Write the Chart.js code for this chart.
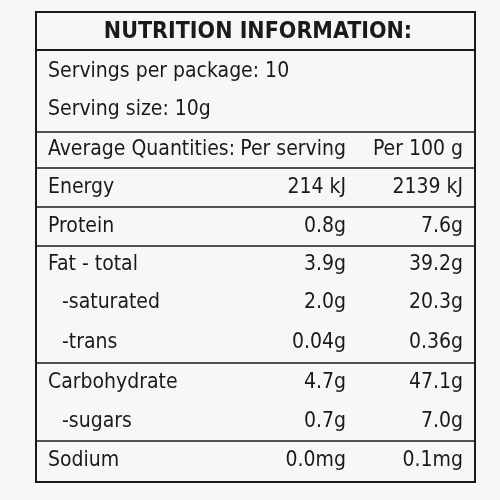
<!DOCTYPE html>
<html>
<head>
<meta charset="utf-8">
<script src="https://cdn.jsdelivr.net/npm/chart.js@4"></script>
<style>
  html, body { margin: 0; padding: 0; background: #f7f7f7; }
  #wrap { width: 500px; height: 500px; }
</style>
</head>
<body>
<div id="wrap"><canvas id="c"></canvas></div>
<script>
const title = 'NUTRITION INFORMATION:';
const infoLines = ['Servings per package: 10', 'Serving size: 10g'];
const headers = ['Average Quantities:', 'Per serving', 'Per 100 g'];
const labels = ['Energy', 'Protein', 'Fat - total', '-saturated', '-trans', 'Carbohydrate', '-sugars', 'Sodium'];
const perServing = ['214 kJ', '0.8g', '3.9g', '2.0g', '0.04g', '4.7g', '0.7g', '0.0mg'];
const per100g = ['2139 kJ', '7.6g', '39.2g', '20.3g', '0.36g', '47.1g', '7.0g', '0.1mg'];
const indented = [false, false, false, true, true, false, true, false];
// row boundaries (y, in label units 0..500 from top) and where group dividers fall
const rowTops = [168, 207, 246, 283, 322, 363, 403, 441];
const rowBottom = 480;
const dividers = [50, 132, 168, 207, 246, 363, 441];

const FONT = '"Liberation Sans Narrow", "DejaVu Sans Condensed", "Roboto Condensed", sans-serif';

const tablePlugin = {
  id: 'table',
  afterDraw(chart) {
    const { ctx } = chart;
    const x = chart.scales.x, y = chart.scales.y;
    const px = v => x.getPixelForValue(v);
    const py = v => y.getPixelForValue(v);
    ctx.save();
    ctx.strokeStyle = '#1a1a1a';
    ctx.fillStyle = '#1a1a1a';
    // outer box
    ctx.lineWidth = 2;
    ctx.strokeRect(px(36), py(12), px(475) - px(36), py(482) - py(12));
    dividers.forEach(d => {
      ctx.lineWidth = d === 50 ? 2 : 1.5;
      ctx.beginPath(); ctx.moveTo(px(36), py(d)); ctx.lineTo(px(475), py(d)); ctx.stroke();
    });
    ctx.textBaseline = 'middle';
    ctx.font = 'bold 23px ' + FONT;
    ctx.textAlign = 'center';
    ctx.fillText(title, px(258), py(32));
    ctx.font = '21px ' + FONT;
    ctx.textAlign = 'left';
    ctx.fillText(infoLines[0], px(48), py(72));
    ctx.fillText(infoLines[1], px(48), py(110));
    ctx.fillText(headers[0], px(48), py(150));
    ctx.textAlign = 'right';
    ctx.fillText(headers[1], px(346), py(150));
    ctx.fillText(headers[2], px(463), py(150));
    labels.forEach((l, i) => {
      const top = rowTops[i], bot = rowTops[i + 1] || rowBottom;
      const cy = py((top + bot) / 2);
      ctx.textAlign = 'left';
      ctx.fillText(l, px(indented[i] ? 62 : 48), cy);
      ctx.textAlign = 'right';
      ctx.fillText(perServing[i], px(346), cy);
      ctx.fillText(per100g[i], px(463), cy);
    });
    ctx.restore();
  }
};

new Chart(document.getElementById('c'), {
  type: 'scatter',
  data: { datasets: [{ data: [] }] },
  options: {
    responsive: true, maintainAspectRatio: false, animation: false,
    layout: { padding: 0 },
    plugins: { legend: { display: false }, tooltip: { enabled: false } },
    scales: {
      x: { type: 'linear', min: 0, max: 500, display: false },
      y: { type: 'linear', min: 0, max: 500, reverse: true, display: false }
    }
  },
  plugins: [tablePlugin]
});
</script>
</body>
</html>
